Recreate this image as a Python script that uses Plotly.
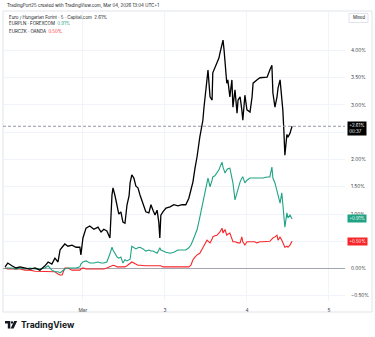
import plotly.graph_objects as go

# Session time in hours relative to Mar 2, 00:00 (weekend gap removed)
hours = [
    -22.8, -22.0, -20.8, -19.6, -18.4, -17.0, -15.5, -14.0, -12.6, -11.1,
    -10.2, -9.1, -8.2, -7.3, -6.7, -6.1, -5.3, -4.4, -3.2, -2.0,
    -0.9, -0.6, 0.0, 0.9, 2.0, 3.2, 4.4, 5.3, 6.1, 7.0,
    7.9, 8.5, 8.8, 9.4, 10.0, 10.5, 11.1, 11.7, 12.3, 12.9,
    13.5, 13.8, 14.3, 14.9, 15.5, 16.1, 16.7, 17.6, 18.4, 19.3,
    19.9, 20.5, 21.1, 21.7, 22.2, 22.5, 22.8, 23.4, 24.3, 25.5,
    26.6, 27.8, 29.0, 30.1, 31.0, 31.6, 32.2, 32.8, 33.4, 34.2,
    34.8, 35.1, 35.4, 35.7, 36.3, 36.6, 37.2, 37.8, 38.0, 38.6,
    39.2, 39.8, 40.1, 40.7, 41.0, 41.3, 41.6, 42.1, 42.4, 43.0,
    43.6, 43.9, 44.5, 45.1, 45.4, 46.0, 46.5, 46.8, 47.4, 48.0,
    48.9, 49.5, 49.8, 50.3, 50.9, 51.8, 52.7, 53.9, 54.7, 55.3,
    55.6, 56.2, 56.8, 57.1, 57.7, 58.2, 58.5, 58.8, 59.1, 59.7,
    60.0, 60.6, 61.2,
]

# Percent change since the start of the range
eurhuf = [
    0.03, 0.10, 0.05, 0.01, 0.03, 0.01, -0.01, 0.01, -0.03, 0.05,
    0.12, 0.08, 0.19, 0.12, 0.34, 0.39, 0.45, 0.41, 0.43, 0.39,
    0.39, 0.25, 0.56, 0.74, 0.78, 0.72, 0.76, 0.67, 0.72, 0.69,
    0.56, 1.35, 1.48, 1.33, 1.17, 1.00, 1.04, 0.85, 0.83, 1.17,
    1.33, 1.57, 1.72, 1.66, 1.51, 1.48, 1.35, 1.17, 1.04, 1.02,
    1.17, 1.07, 0.98, 1.07, 0.85, 0.56, 0.98, 1.04, 1.11, 1.13,
    1.17, 1.15, 1.17, 1.17, 1.29, 1.44, 1.59, 1.84, 2.05, 2.41,
    2.63, 2.72, 2.94, 3.15, 3.46, 3.64, 3.15, 3.09, 3.59, 3.68,
    3.77, 3.86, 3.95, 4.14, 4.19, 4.01, 3.77, 3.40, 3.46, 3.15,
    3.46, 2.96, 3.28, 2.85, 3.09, 3.15, 2.91, 2.72, 3.18, 2.91,
    2.87, 3.15, 3.40, 3.42, 3.46, 3.50, 3.50, 3.51, 3.64, 3.73,
    3.22, 2.96, 3.15, 3.31, 3.46, 3.15, 2.91, 2.54, 2.08, 2.46,
    2.41, 2.48, 2.61,
]

eurpln = [
    0.01, 0.01, 0.01, -0.01, 0.01, -0.01, 0.01, -0.01, -0.01, 0.01,
    0.05, -0.03, -0.06, -0.06, -0.08, -0.05, -0.01, 0.01, 0.01, 0.01,
    0.03, 0.08, 0.12, 0.14, 0.10, 0.10, 0.12, 0.10, 0.10, 0.12,
    0.27, 0.39, 0.34, 0.27, 0.21, 0.19, 0.21, 0.10, 0.16, 0.14,
    0.16, 0.17, 0.41, 0.38, 0.36, 0.38, 0.39, 0.36, 0.32, 0.34,
    0.32, 0.32, 0.30, 0.28, 0.34, 0.38, 0.34, 0.32, 0.30, 0.28,
    0.30, 0.34, 0.34, 0.34, 0.38, 0.43, 0.52, 0.60, 0.71, 0.94,
    1.13, 1.26, 1.35, 1.44, 1.57, 1.66, 1.50, 1.62, 1.68, 1.70,
    1.75, 1.81, 1.86, 1.95, 1.86, 1.81, 1.75, 1.81, 1.83, 1.84,
    1.66, 1.57, 1.26, 1.39, 1.48, 1.59, 1.66, 1.68, 1.57, 1.62,
    1.66, 1.66, 1.66, 1.66, 1.66, 1.66, 1.66, 1.68, 1.68, 1.86,
    1.66, 1.57, 1.44, 1.35, 1.20, 1.39, 1.13, 0.98, 0.76, 1.02,
    0.93, 0.98, 0.91,
]

eurczk = [
    0.01, -0.01, -0.01, -0.01, -0.01, -0.03, -0.03, -0.05, -0.05, -0.05,
    -0.06, -0.06, -0.06, -0.10, -0.12, -0.12, 0.01, 0.01, -0.03, -0.03,
    -0.03, -0.01, 0.01, -0.01, -0.01, -0.01, -0.01, -0.01, -0.01, 0.01,
    0.03, 0.05, 0.06, 0.05, 0.03, 0.03, 0.03, 0.03, 0.03, 0.05,
    0.08, 0.10, 0.12, 0.10, 0.08, 0.06, 0.06, 0.05, 0.05, 0.05,
    0.05, 0.05, 0.05, 0.05, 0.05, 0.05, 0.05, 0.03, 0.03, 0.03,
    0.03, 0.03, 0.03, 0.03, 0.03, 0.06, 0.16, 0.21, 0.25, 0.28,
    0.34, 0.39, 0.41, 0.45, 0.52, 0.50, 0.47, 0.54, 0.58, 0.60,
    0.61, 0.65, 0.67, 0.74, 0.65, 0.69, 0.71, 0.61, 0.63, 0.65,
    0.56, 0.49, 0.49, 0.47, 0.47, 0.47, 0.58, 0.49, 0.43, 0.49,
    0.49, 0.49, 0.49, 0.49, 0.47, 0.49, 0.49, 0.49, 0.50, 0.54,
    0.56, 0.58, 0.61, 0.52, 0.58, 0.52, 0.47, 0.43, 0.39, 0.41,
    0.39, 0.43, 0.50,
]

day_ticks = [0, 24, 48, 72]
day_labels = ["Mar", "3", "4", "5"]
pct_ticks = [-0.5, 0, 0.5, 1, 1.5, 2, 2.5, 3, 3.5, 4]
pct_labels = ["\u22120.50%", "0.00%", "", "1.00%", "1.50%", "2.00%", "", "3.00%", "3.50%", "4.00%"]

BLACK = "#000000"
GREEN = "#1fa383"
RED = "#f7262a"
TEXT = "#131722"
FONT = "Inter"

W, H = 375, 337
ML, MR, MT, MB = 3, 30, 12, 36
PW, PH = W - ML - MR, H - MT - MB


def px(x):
    return (x - ML) / PW


def py(y):
    return (H - MB - y) / PH


fig = go.Figure()
for name, vals, col, w in [
    ("EURCZK", eurczk, RED, 1.1),
    ("EURPLN", eurpln, GREEN, 1.1),
    ("EURHUF", eurhuf, BLACK, 1.3),
]:
    fig.add_trace(go.Scatter(x=hours, y=vals, mode="lines", name=name,
                             line=dict(color=col, width=w), hoverinfo="skip"))

shapes = [
    # outer chart frame
    dict(type="rect", xref="paper", yref="paper", x0=px(3), x1=px(372), y0=py(312), y1=py(11),
         line=dict(color="#e0e3eb", width=1), layer="below"),
    # last-value dashed line of the main symbol
    dict(type="line", xref="paper", yref="y", x0=0, x1=1, y0=eurhuf[-1], y1=eurhuf[-1],
         line=dict(color="#9598a1", width=1, dash="3px,2px")),
    # scale-mode box
    dict(type="rect", xref="paper", yref="paper", x0=px(349), x1=px(368), y0=py(22.5), y1=py(13.5),
         line=dict(color="#e0e3eb", width=1)),
    # logo glyph
    dict(type="path", xref="paper", yref="paper",
         path=f"M {px(5)},{py(321)} L {px(10.3)},{py(321)} L {px(10.3)},{py(328.5)} L {px(7.8)},{py(328.5)} "
              f"L {px(7.8)},{py(323.6)} L {px(5)},{py(323.6)} Z",
         fillcolor=TEXT, line=dict(width=0)),
    dict(type="circle", xref="paper", yref="paper", x0=px(10.8), x1=px(13.2), y0=py(323.6), y1=py(321.2),
         fillcolor=TEXT, line=dict(width=0)),
    dict(type="path", xref="paper", yref="paper",
         path=f"M {px(14.2)},{py(321)} L {px(17.2)},{py(321)} L {px(13.6)},{py(328.5)} L {px(10.6)},{py(328.5)} Z",
         fillcolor=TEXT, line=dict(width=0)),
]

annotations = [
    dict(xref="paper", yref="paper", x=px(5), y=py(6), xanchor="left", yanchor="middle",
         text="TradingPort25 created with TradingView.com, Mar 04, 2026 13:04 UTC+1",
         showarrow=False, font=dict(size=4.4, color=TEXT, family=FONT)),
    dict(xref="paper", yref="paper", x=px(7), y=py(17), xanchor="left", yanchor="middle",
         text=f"Euro / Hungarian Forint \u00b7 5 \u00b7 Capital.com  {eurhuf[-1]:.2f}%",
         showarrow=False, font=dict(size=4.4, color=TEXT, family=FONT)),
    dict(xref="paper", yref="paper", x=px(7), y=py(24), xanchor="left", yanchor="middle",
         text=f"EURPLN \u00b7 FOREXCOM  <span style='color:{GREEN}'>{eurpln[-1]:.2f}%</span>",
         showarrow=False, font=dict(size=4.4, color=TEXT, family=FONT)),
    dict(xref="paper", yref="paper", x=px(7), y=py(31), xanchor="left", yanchor="middle",
         text=f"EURCZK \u00b7 OANDA  <span style='color:{RED}'>{eurczk[-1]:.2f}%</span>",
         showarrow=False, font=dict(size=4.4, color=TEXT, family=FONT)),
    dict(xref="paper", yref="paper", x=px(358.5), y=py(18), xanchor="center", yanchor="middle",
         text="Mixed", showarrow=False, font=dict(size=4.2, color=TEXT, family=FONT)),
    # price-scale value labels
    dict(xref="paper", yref="y", x=1, y=eurhuf[-1], xanchor="left", yanchor="middle", xshift=2, yshift=-2.5,
         text=f"+{eurhuf[-1]:.2f}%<br>00:37", showarrow=False, bgcolor=BLACK, borderpad=1.2,
         font=dict(size=4.4, color="#ffffff", family=FONT), align="left"),
    dict(xref="paper", yref="y", x=1, y=eurpln[-1], xanchor="left", yanchor="middle", xshift=2,
         text=f"+{eurpln[-1]:.2f}%", showarrow=False, bgcolor=GREEN, borderpad=1.2,
         font=dict(size=4.4, color="#ffffff", family=FONT)),
    dict(xref="paper", yref="y", x=1, y=eurczk[-1], xanchor="left", yanchor="middle", xshift=2,
         text=f"+{eurczk[-1]:.2f}%", showarrow=False, bgcolor=RED, borderpad=1.2,
         font=dict(size=4.4, color="#ffffff", family=FONT)),
    # brand mark
    dict(xref="paper", yref="paper", x=px(19), y=py(325), xanchor="left", yanchor="middle",
         text="<b>TradingView</b>", showarrow=False, font=dict(size=8.6, color=TEXT, family=FONT)),
]

fig.update_layout(
    width=W, height=H,
    margin=dict(l=ML, r=MR, t=MT, b=MB, pad=0),
    paper_bgcolor="#ffffff", plot_bgcolor="#ffffff",
    showlegend=False,
    font=dict(family=FONT, size=5, color="#3a3e48"),
    shapes=shapes, annotations=annotations,
    xaxis=dict(range=[-23.4, 76.7], tickvals=day_ticks, ticktext=day_labels,
               showgrid=True, gridcolor="#f3f4f8", gridwidth=1, zeroline=False,
               showline=False, ticks="", ticklabelstandoff=5,
               tickfont=dict(size=4.8, color="#3a3e48", family=FONT)),
    yaxis=dict(range=[-0.596, 4.706], side="right", tickvals=pct_ticks, ticktext=pct_labels,
               showgrid=True, gridcolor="#f0f3fa", gridwidth=1,
               zeroline=True, zerolinecolor="#a3a6af", zerolinewidth=1,
               showline=False, ticks="", ticklabelstandoff=5,
               tickfont=dict(size=4.8, color="#3a3e48", family=FONT)),
)

fig.write_html("out.html")
